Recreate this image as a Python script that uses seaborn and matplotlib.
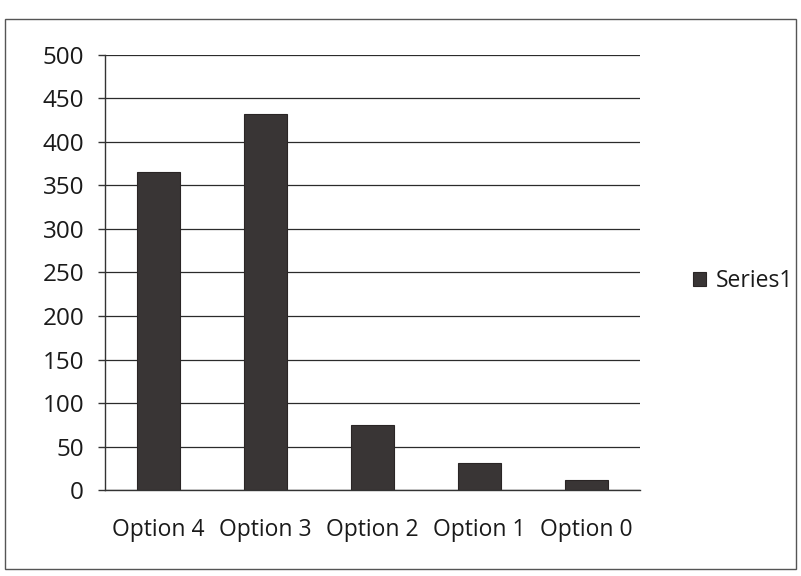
import pandas as pd
import numpy as np
import matplotlib.pyplot as plt
import seaborn as sns
from matplotlib.patches import Rectangle
from matplotlib.ticker import FixedLocator

options = ['Option 4', 'Option 3', 'Option 2', 'Option 1', 'Option 0']
values = [365, 432, 75, 31, 12]
series_name = 'Series1'
y_ticks = [0, 50, 100, 150, 200, 250, 300, 350, 400, 450, 500]

df = pd.DataFrame({'option': options, 'value': values, 'series': series_name})

sns.set_style('white')
plt.rcParams['font.family'] = ['Open Sans', 'DejaVu Sans']

fig = plt.figure(figsize=(8.01, 5.76), dpi=100)
ax = fig.add_axes([0.131, 0.149, 0.668, 0.756])

sns.barplot(data=df, x='option', y='value', hue='series', palette=['#3a3434'],
            width=0.4, ax=ax, edgecolor='#2a2525', linewidth=0.8)

ax.set_ylim(0, 500)
ax.set_xlim(-0.5, len(options) - 0.5)
ax.set_yticks(y_ticks)
ax.yaxis.grid(True, color='#2b2b2b', linewidth=0.9)
ax.set_axisbelow(True)
ax.set_xlabel('')
ax.set_ylabel('')

# ticks between categories, as Excel draws them
ax.xaxis.set_minor_locator(FixedLocator(np.arange(-0.5, len(options), 1.0)))
ax.tick_params(axis='x', which='major', length=0, labelsize=16.5, pad=20, colors='#1a1a1a')
ax.tick_params(axis='x', which='minor', length=6, width=1, color='#333333', direction='out')
ax.tick_params(axis='y', length=5, width=1, color='#333333', labelsize=17.5, pad=10,
               colors='#1a1a1a', left=True)

for side in ['top', 'right']:
    ax.spines[side].set_visible(False)
for side in ['left', 'bottom']:
    ax.spines[side].set_color('#333333')
    ax.spines[side].set_linewidth(1)

leg = ax.legend(loc='center left', bbox_to_anchor=(1.06, 0.48), frameon=False,
                fontsize=16.5, handlelength=0.6, handleheight=0.6, handletextpad=0.4)
for t in leg.get_texts():
    t.set_color('#1a1a1a')

fig.patches.append(Rectangle((0.006, 0.012), 0.988, 0.955, transform=fig.transFigure,
                             fill=False, edgecolor='#555555', linewidth=1))

plt.savefig('out.png', dpi=100)
